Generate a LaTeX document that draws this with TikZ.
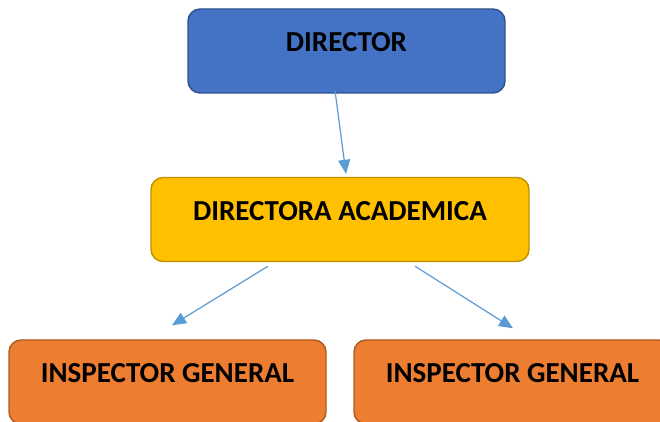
\documentclass[tikz,border=0pt]{standalone}
\usepackage{fontspec}
\setmainfont{Carlito}
\usepackage{xcolor}
\usepackage{tikz}
\usetikzlibrary{calc, arrows.meta, positioning}
\definecolor{dirblue}{RGB}{68, 114, 196}
\definecolor{dirblueline}{RGB}{47, 82, 143}
\definecolor{acadyellow}{RGB}{255, 192, 0}
\definecolor{acadyellowline}{RGB}{191, 144, 0}
\definecolor{insporange}{RGB}{237, 125, 49}
\definecolor{insporangeline}{RGB}{174, 90, 33}
\definecolor{linkblue}{RGB}{91, 155, 213}
\tikzset{
    boxnode/.style = {draw, rectangle, rounded corners=12pt, line width=1.4pt, 
      node distance=0em, minimum height=84pt, inner sep=0pt, 
      text height=19pt, text depth=17pt, 
      font=\fontsize{29}{34}\selectfont\bfseries},
    connect/.style = {linkblue, line width=1.2pt, -{Triangle[length=14pt, width=12pt]}}
}

\begin{document}
\begin{tikzpicture}
    \useasboundingbox (0,0) rectangle (660pt,422pt);

    \node [name=director, boxnode, fill=dirblue, draw=dirblueline, minimum width=317pt] 
        at (346.5pt,371pt) {DIRECTOR};
    \node [name=academica, boxnode, fill=acadyellow, draw=acadyellowline, minimum width=378pt, 
        below of = director, yshift=-168.5pt, xshift=-6.5pt] {DIRECTORA ACADEMICA};

    \node [name=inspA, boxnode, fill=insporange, draw=insporangeline, minimum width=317pt, 
        below of = academica, yshift=-162.5pt, xshift=-172.5pt] {INSPECTOR GENERAL};
    \node [name=inspB, boxnode, fill=insporange, draw=insporangeline, minimum width=317pt, 
        below of = academica, yshift=-162.5pt, xshift=172.5pt] {INSPECTOR GENERAL};

    \draw [connect] ($(director.south)+(-11.5pt,3pt)$) -- ($(academica.north)+(6pt,3pt)$);
    \draw [connect] ($(academica.south)+(-72pt,-4pt)$) -- ($(inspA.north)+(4.5pt,14pt)$);
    \draw [connect] ($(academica.south)+(75pt,-4pt)$) -- ($(inspB.north)+(0.5pt,11pt)$);
\end{tikzpicture}
\end{document}
